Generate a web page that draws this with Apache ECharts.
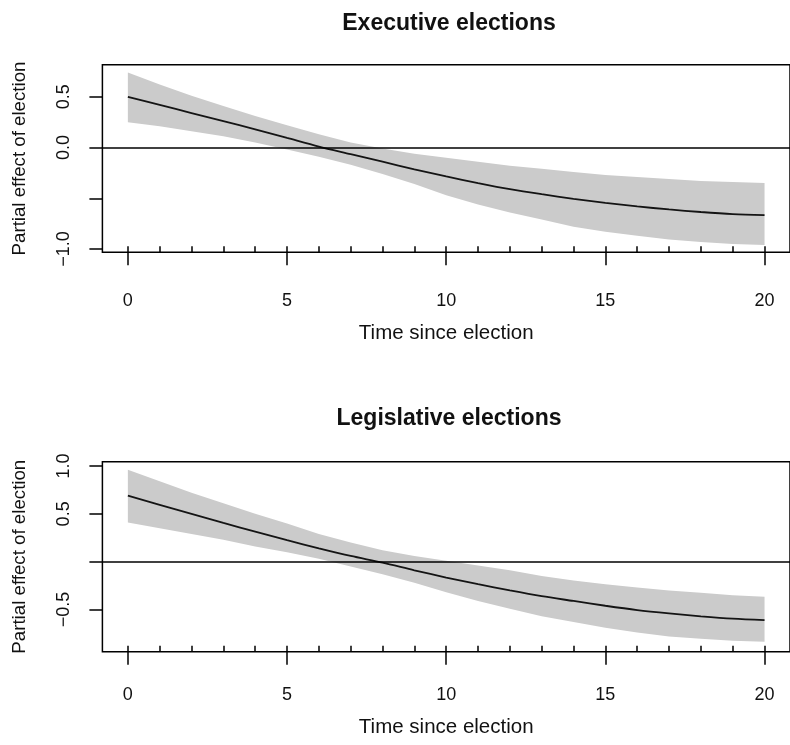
<!DOCTYPE html>
<html>
<head>
<meta charset="utf-8">
<script src="https://cdn.jsdelivr.net/npm/echarts@6/dist/echarts.min.js"></script>
<style>
html,body{margin:0;padding:0;background:#fff;}
#chart{width:790px;height:745px;}
</style>
</head>
<body>
<div id="chart"></div>
<script>
// ---- data ----
const times = [0,1,2,3,4,5,6,7,8,9,10,11,12,13,14,15,16,17,18,19,20];
const rugTimes = [0,1,2,3,4,5,6,7,8,9,10,11,12,13,14,15,16,17,18,19,20];

const execFit   = [0.50,0.42,0.34,0.26,0.18,0.095,0.01,-0.065,-0.14,-0.215,-0.285,-0.35,-0.41,-0.46,-0.505,-0.545,-0.58,-0.61,-0.635,-0.655,-0.665];
const execUpper = [0.74,0.62,0.51,0.41,0.31,0.22,0.13,0.05,-0.01,-0.06,-0.10,-0.14,-0.18,-0.21,-0.24,-0.27,-0.29,-0.31,-0.33,-0.34,-0.35];
const execLower = [0.25,0.21,0.16,0.11,0.05,-0.02,-0.09,-0.17,-0.26,-0.36,-0.47,-0.56,-0.64,-0.71,-0.78,-0.83,-0.87,-0.905,-0.93,-0.95,-0.96];

const legFit   = [0.69,0.595,0.50,0.405,0.315,0.225,0.14,0.06,-0.01,-0.09,-0.165,-0.235,-0.30,-0.36,-0.41,-0.46,-0.505,-0.54,-0.57,-0.595,-0.61];
const legUpper = [0.96,0.84,0.72,0.61,0.50,0.40,0.29,0.20,0.12,0.06,0.01,-0.04,-0.09,-0.15,-0.195,-0.235,-0.27,-0.30,-0.325,-0.35,-0.366];
const legLower = [0.41,0.35,0.29,0.23,0.16,0.10,0.03,-0.05,-0.13,-0.22,-0.32,-0.41,-0.49,-0.57,-0.63,-0.69,-0.74,-0.78,-0.805,-0.825,-0.836];

const xTicks = [0,5,10,15,20];
const execYTicks = [-1,-0.5,0,0.5];
const execYLabels = [-1,0,0.5];
const legYTicks = [-0.5,0,0.5,1];
const legYLabels = [-0.5,0.5,1];

const titles = ['Executive elections','Legislative elections'];
const xName = 'Time since election';
const yName = 'Partial effect of election';

// ---- chart ----
const FONT = "'Liberation Sans', Arial, Helvetica, sans-serif";
const chart = echarts.init(document.getElementById('chart'), null, {renderer:'canvas'});

const fmt = v => (v < 0 ? '\u2212' : '') + Math.abs(v).toFixed(1);

function band(gi, lo, hi) {
  return {
    type: 'custom', xAxisIndex: gi*2, yAxisIndex: gi, z: 1, silent: true,
    data: times.map((t,i)=>[t, lo[i], hi[i]]),
    renderItem: function(params, api) {
      if (params.dataIndex !== 0) return null;
      const pts = [];
      for (let i=0;i<times.length;i++) pts.push(api.coord([times[i], hi[i]]));
      for (let i=times.length-1;i>=0;i--) pts.push(api.coord([times[i], lo[i]]));
      return {type:'polygon', shape:{points: pts}, style:{fill:'#cbcbcb', stroke:null}};
    }
  };
}
function fitLine(gi, fit) {
  return {
    type:'line', xAxisIndex: gi*2, yAxisIndex: gi, z: 3,
    data: times.map((t,i)=>[t, fit[i]]),
    showSymbol:false, smooth:0.3, silent:true,
    lineStyle:{color:'#141414', width:1.8},
    markLine:{silent:true, symbol:'none', label:{show:false},
      lineStyle:{color:'#000', width:1.5, type:'solid'},
      data:[{yAxis:0}]}
  };
}
function xAxes(gi, labelMargin, nameGap) {
  return [{
    gridIndex: gi, type:'value', min:-0.8, max:20.8, position:'bottom',
    axisLine:{show:false, onZero:false}, splitLine:{show:false},
    axisTick:{show:true, customValues:xTicks, length:13, lineStyle:{color:'#000', width:1.5}},
    axisLabel:{customValues:xTicks, fontSize:18, color:'#111', fontFamily:FONT, margin:labelMargin},
    name:xName, nameLocation:'middle', nameGap:nameGap,
    nameTextStyle:{fontSize:20.5, color:'#111', fontFamily:FONT}
  },{
    gridIndex: gi, type:'value', min:-0.8, max:20.8, position:'bottom',
    axisLine:{show:false, onZero:false}, splitLine:{show:false},
    axisTick:{show:true, inside:true, customValues:rugTimes, length:6, lineStyle:{color:'#000', width:1.5}},
    axisLabel:{show:false}
  }];
}
function yAxis(gi, min, max, ticks, labels) {
  return {
    gridIndex: gi, type:'value', min:min, max:max, position:'left',
    axisLine:{show:false, onZero:false}, splitLine:{show:false},
    axisTick:{show:true, customValues:ticks, length:13, lineStyle:{color:'#000', width:1.5}},
    axisLabel:{customValues:labels, formatter:fmt, rotate:90, fontSize:18, color:'#111', fontFamily:FONT, margin:29},
    name:yName, nameLocation:'middle', nameGap:73,
    nameTextStyle:{fontSize:18.7, color:'#111', fontFamily:FONT}
  };
}

const option = {
  animation:false,
  backgroundColor:'#fff',
  title:[
    {text:titles[0], left:444, top:7, textAlign:'center', textStyle:{fontSize:23, fontWeight:'bold', color:'#111', fontFamily:FONT}},
    {text:titles[1], left:444, top:402, textAlign:'center', textStyle:{fontSize:23, fontWeight:'bold', color:'#111', fontFamily:FONT}}
  ],
  grid:[
    {left:102.4, top:64.7, width:691.2, height:187.6, show:true, borderColor:'#000', borderWidth:1.5, backgroundColor:'transparent'},
    {left:102.4, top:461.7, width:691.2, height:190, show:true, borderColor:'#000', borderWidth:1.5, backgroundColor:'transparent'}
  ],
  xAxis: xAxes(0, 40, 71).concat(xAxes(1, 34, 65)),
  yAxis:[
    yAxis(0, -1.032, 0.816, execYTicks, execYLabels),
    yAxis(1, -0.94, 1.045, legYTicks, legYLabels)
  ],
  series:[
    band(0, execLower, execUpper),
    fitLine(0, execFit),
    band(1, legLower, legUpper),
    fitLine(1, legFit)
  ]
};
chart.setOption(option);
</script>
</body>
</html>
